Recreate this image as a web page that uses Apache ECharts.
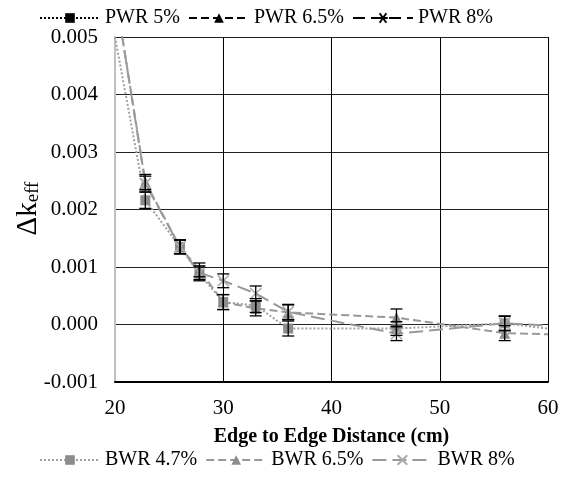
<!DOCTYPE html>
<html><head><meta charset="utf-8">
<script src="https://cdn.jsdelivr.net/npm/echarts@6/dist/echarts.min.js"></script>
<style>html,body{margin:0;padding:0;background:#fff}#c{width:580px;height:479px}</style>
</head><body><div id="c"></div>
<script>
// Data
var xBwr47 = [20, 22.8, 26, 27.8, 30, 33, 36, 46, 56, 60];
var yBwr47 = [0.0050, 0.00216, 0.00135, 0.00088, 0.00039, 0.00033, -0.00007, -0.00007, 0.00002, -0.00007];
var xBwr65 = [20, 22.8, 26, 27.8, 30, 33, 36, 46, 56, 60];
var yBwr65 = [0.0058, 0.00248, 0.00135, 0.00095, 0.00039, 0.00028, 0.00021, 0.00012, -0.00015, -0.00017];
var xBwr8 = [20, 22.8, 26, 27.8, 30, 33, 36, 46, 56, 60];
var yBwr8 = [0.0058, 0.00245, 0.00135, 0.00090, 0.00076, 0.00054, 0.00022, -0.00016, 0.00002, -0.00002];
var markerShown = [false, true, true, true, true, true, true, true, true, false];
var err47 = [0, 0.00014, 0.00012, 0.00012, 0.00013, 0.00012, 0.00013, 0.00012, 0.00013, 0];
var err65 = [0, 0.00013, 0.00012, 0.00012, 0.00013, 0.00013, 0.00013, 0.00015, 0.00013, 0];
var err8 = [0, 0.00013, 0.00012, 0.00012, 0.00012, 0.00013, 0.00013, 0.00012, 0.00012, 0];
var pwrNames = ['PWR 5%', 'PWR 6.5%', 'PWR 8%'];
var bwrNames = ['BWR 4.7%', 'BWR 6.5%', 'BWR 8%'];
var xTicks = [20, 30, 40, 50, 60];
var yTicks = [-0.001, 0, 0.001, 0.002, 0.003, 0.004, 0.005];

function pts(xs, ys) { return xs.map(function (x, i) { return { value: [x, ys[i]], symbolSize: markerShown[i] ? undefined : 0 }; }); }
function errData(xs, ys, es) {
  var out = [];
  xs.forEach(function (x, i) { if (markerShown[i]) out.push([x, ys[i] - es[i], ys[i] + es[i]]); });
  return out;
}
var allErr = errData(xBwr47, yBwr47, err47).concat(errData(xBwr65, yBwr65, err65)).concat(errData(xBwr8, yBwr8, err8));

var FONT = '"Liberation Serif", "Times New Roman", serif';
var GRAY = '#8c8c8c';
var starPath = 'path://M0,5L10,5M1.5,1.5L8.5,8.5M8.5,1.5L1.5,8.5';
var xPath = 'path://M0,0L10,10M10,0L0,10';

var chart = echarts.init(document.getElementById('c'), null, { renderer: 'canvas' });
chart.setOption({
  animation: false,
  backgroundColor: '#fff',
  textStyle: { fontFamily: FONT },
  grid: { left: 115, right: 32, top: 37, bottom: 97, containLabel: false, outerBoundsMode: 'none' },
  legend: [
    { data: pwrNames, top: 3, left: 34, itemWidth: 60, itemHeight: 12, itemGap: 8,
      textStyle: { fontFamily: FONT, fontSize: 20, color: '#000' } },
    { data: bwrNames, bottom: 4, left: 34, itemWidth: 60, itemHeight: 12, itemGap: 8,
      textStyle: { fontFamily: FONT, fontSize: 20, color: '#000' } }
  ],
  xAxis: {
    type: 'value', min: xTicks[0], max: xTicks[xTicks.length - 1], interval: 10,
    name: 'Edge to Edge Distance (cm)', nameLocation: 'middle', nameGap: 45, nameMoveOverlap: false,
    nameTextStyle: { fontFamily: FONT, fontSize: 20, fontWeight: 'bold', color: '#000' },
    axisLine: { onZero: false, lineStyle: { color: '#000', width: 2 } },
    axisTick: { show: false },
    axisLabel: { fontFamily: FONT, fontSize: 21, color: '#000', margin: 16 },
    splitLine: { show: true, lineStyle: { color: '#000', width: 1 } }
  },
  yAxis: {
    type: 'value', min: yTicks[0], max: yTicks[yTicks.length - 1], interval: 0.001,
    name: '{a|Δk}{b|eff}', nameLocation: 'middle', nameGap: 72, nameRotate: 90, nameMoveOverlap: false,
    nameTextStyle: { padding: [0, 0, 0, 2], rich: {
      a: { fontFamily: FONT, fontSize: 29, color: '#000' },
      b: { fontFamily: FONT, fontSize: 19, color: '#000', padding: [11, 0, 0, 0] } } },
    axisLine: { show: true, lineStyle: { color: '#c0c0c0', width: 2 } },
    axisTick: { show: false },
    axisLabel: { fontFamily: FONT, fontSize: 21, color: '#000', margin: 17,
      formatter: function (v) { return v.toFixed(3); } },
    splitLine: { show: true, lineStyle: { color: '#222', width: 1 } }
  },
  series: [
    { name: pwrNames[0], type: 'line', data: [], symbol: 'rect', symbolSize: 10,
      itemStyle: { color: '#000' }, lineStyle: { color: '#000', type: 'dotted', width: 1.5 } },
    { name: pwrNames[1], type: 'line', data: [], symbol: 'triangle', symbolSize: 11,
      itemStyle: { color: '#000' }, lineStyle: { color: '#000', type: 'dashed', width: 1.5 } },
    { name: pwrNames[2], type: 'line', data: [], symbol: starPath, symbolSize: 10,
      itemStyle: { color: '#000', borderColor: '#000', borderWidth: 1.5 }, lineStyle: { color: '#000', type: [12, 6], width: 1.5 } },
    { name: bwrNames[0], type: 'line', data: pts(xBwr47, yBwr47), symbol: 'rect', symbolSize: 10, z: 3,
      itemStyle: { color: GRAY }, lineStyle: { color: '#a0a0a0', type: 'dotted', width: 2 } },
    { name: bwrNames[1], type: 'line', data: pts(xBwr65, yBwr65), symbol: 'triangle', symbolSize: 11, z: 3,
      itemStyle: { color: GRAY }, lineStyle: { color: '#999', type: 'dashed', width: 2 } },
    { name: bwrNames[2], type: 'line', data: pts(xBwr8, yBwr8), symbol: xPath, symbolSize: 11, z: 3,
      itemStyle: { color: '#aaa', borderColor: '#aaa', borderWidth: 1.5 }, lineStyle: { color: '#999', type: [14, 6], width: 2 } },
    { name: 'err', type: 'custom', data: allErr, z: 4, clip: true,
      renderItem: function (params, api) {
        var x = api.value(0), lo = api.value(1), hi = api.value(2);
        var pLo = api.coord([x, lo]), pHi = api.coord([x, hi]);
        var w = 6;
        var st = { stroke: '#000', lineWidth: 1.3 };
        return { type: 'group', children: [
          { type: 'line', shape: { x1: pLo[0], y1: pLo[1], x2: pHi[0], y2: pHi[1] }, style: st },
          { type: 'line', shape: { x1: pLo[0] - w, y1: pLo[1], x2: pLo[0] + w, y2: pLo[1] }, style: st },
          { type: 'line', shape: { x1: pHi[0] - w, y1: pHi[1], x2: pHi[0] + w, y2: pHi[1] }, style: st }
        ] };
      } }
  ]
});
</script></body></html>
